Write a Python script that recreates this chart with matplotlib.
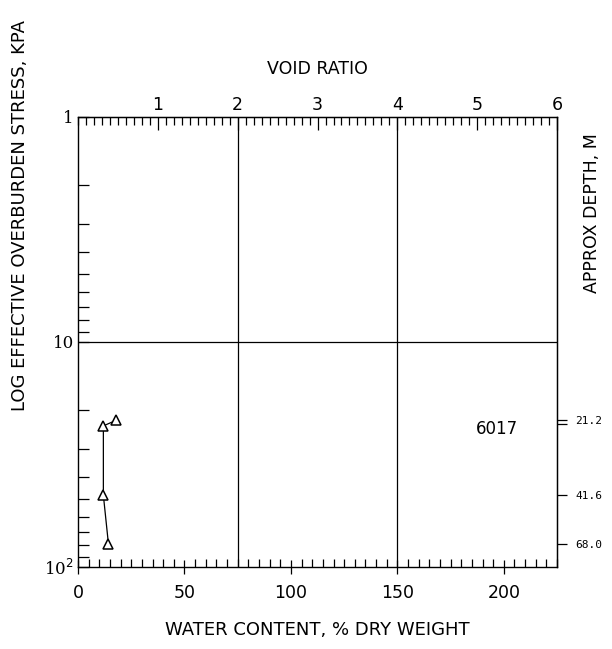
import matplotlib
matplotlib.use("Agg")
import matplotlib.pyplot as plt
import numpy as np
from matplotlib.ticker import FixedLocator, MultipleLocator, NullFormatter

# sample 6017: water content (% dry weight) vs effective overburden stress (kPa)
water_content = [17.9, 11.9, 11.9, 14.3]
stress = [22.3, 23.6, 48.0, 79.3]

depth_ticks = [22.2, 23.2, 48.0, 79.3]
depth_labels = ["21.2", "", "41.6", "68.0"]

wc_ticks = [0, 50, 100, 150, 200]
void_ticks = [1, 2, 3, 4, 5, 6]
stress_ticks = [1, 10, 100]
stress_labels = ["1", "10", "10$^2$"]

WC_PER_VOID = 37.5

plt.rcParams["font.family"] = ["DejaVu Sans"]

fig = plt.figure(figsize=(6.12, 6.49), dpi=100)
ax = fig.add_axes([0.1275, 0.1264, 0.7827, 0.6934])

ax.plot(water_content, stress, color="black", lw=0.9,
        marker="^", mfc="white", mec="black", ms=6.5, mew=1.1)

ax.set_yscale("log")
ax.set_ylim(100, 1)
ax.set_xlim(0, 6 * WC_PER_VOID)

# grid lines at void ratio 2, 4 and stress 10
for v in (2, 4):
    ax.axvline(v * WC_PER_VOID, color="black", lw=0.9)
ax.axhline(10, color="black", lw=0.9)

for s in ax.spines.values():
    s.set_linewidth(1.0)

# bottom axis: water content
ax.xaxis.set_major_locator(FixedLocator(wc_ticks))
ax.xaxis.set_minor_locator(MultipleLocator(5))
ax.tick_params(axis="x", which="major", direction="inout", length=10, width=0.9,
               labelsize=12.5, pad=7, top=False)
ax.tick_params(axis="x", which="minor", direction="in", length=6, width=0.9, top=False)

# left axis: stress
ax.yaxis.set_major_locator(FixedLocator(stress_ticks))
ax.set_yticklabels(stress_labels, family="DejaVu Serif")
ax.yaxis.set_minor_locator(FixedLocator(
    [m * 10 ** d for d in range(2) for m in range(2, 10)]))
ax.yaxis.set_minor_formatter(NullFormatter())
ax.tick_params(axis="y", which="major", direction="in", length=8, width=0.9,
               labelsize=12, pad=3, right=False)
ax.tick_params(axis="y", which="minor", direction="in", length=8, width=0.9, right=False)

# top axis: void ratio
top = ax.secondary_xaxis("top", functions=(lambda w: w / WC_PER_VOID,
                                           lambda v: v * WC_PER_VOID))
top.xaxis.set_major_locator(FixedLocator(void_ticks))
top.xaxis.set_minor_locator(MultipleLocator(0.1))
top.tick_params(which="major", direction="in", length=9, width=0.9, labelsize=12.5, pad=2)
top.tick_params(which="minor", direction="in", length=6, width=0.9)
top.set_xlabel("VOID RATIO", fontsize=12.5, labelpad=16)

# right axis: approximate depth
right = ax.secondary_yaxis("right")
right.yaxis.set_major_locator(FixedLocator(depth_ticks))
right.set_yticklabels(depth_labels, family="DejaVu Sans Mono")
right.yaxis.set_minor_locator(FixedLocator([]))
right.tick_params(which="major", direction="out", length=7, width=0.9, labelsize=8, pad=6)
fig.text(0.967, 0.672, "APPROX DEPTH, M", rotation=90, fontsize=12.5,
         ha="center", va="center")

ax.set_xlabel("WATER CONTENT, % DRY WEIGHT", fontsize=13, labelpad=14)
ax.set_ylabel("LOG EFFECTIVE OVERBURDEN STRESS, KPA", fontsize=13)
ax.yaxis.set_label_coords(-0.103, 0.782)

ax.text(0.875, 0.295, "6017", transform=ax.transAxes, fontsize=12, ha="center")

fig.savefig("out.png", dpi=100)
